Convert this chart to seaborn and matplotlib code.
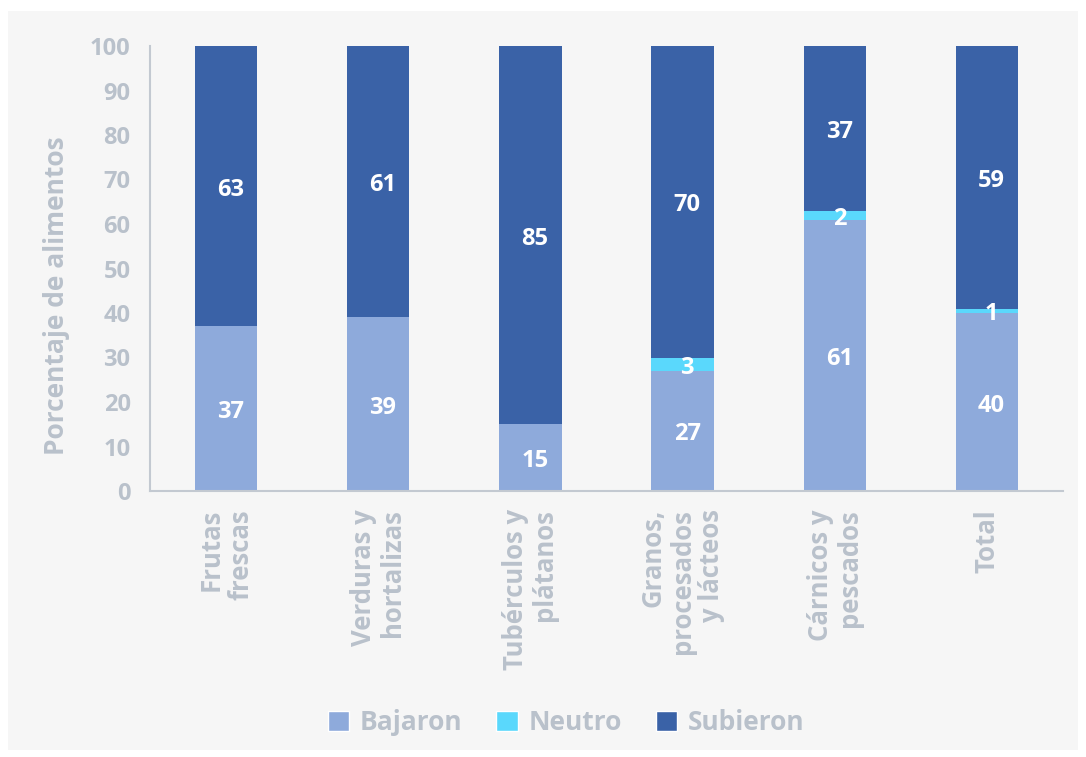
import matplotlib
matplotlib.use("Agg")
import matplotlib.pyplot as plt
from matplotlib.patches import Rectangle, Patch
import seaborn as sns
import numpy as np

categories = ["Frutas\nfrescas", "Verduras y\nhortalizas", "Tubérculos y\nplátanos",
              "Granos,\nprocesados\ny lácteos", "Cárnicos y\npescados", "Total"]
bajaron = [37, 39, 15, 27, 61, 40]
neutro = [0, 0, 0, 3, 2, 1]
subieron = [63, 61, 85, 70, 37, 59]
series_names = ["Bajaron", "Neutro", "Subieron"]
colors = ["#8eaadb", "#5ad8fc", "#3a62a7"]
yticks = [0, 10, 20, 30, 40, 50, 60, 70, 80, 90, 100]

sns.set_theme(style="white")
plt.rcParams["font.family"] = ["Open Sans", "DejaVu Sans"]

gray = "#b9c1cb"
fig = plt.figure(figsize=(10.86, 7.57), dpi=100, facecolor="white")
fig.patches.append(Rectangle((8 / 1086, 1 - 750 / 757), (1078 - 8) / 1086, (750 - 11) / 757,
                             transform=fig.transFigure, facecolor="#f6f6f6",
                             edgecolor="none", zorder=-10))
ax = fig.add_axes([150 / 1086, 1 - 491 / 757, (1063 - 150) / 1086, (491 - 46) / 757])
ax.set_facecolor("none")

x = list(range(len(categories)))
series = [bajaron, neutro, subieron]
bottom = np.zeros(len(categories))
for vals, col, name in zip(series, colors, series_names):
    sns.barplot(x=x, y=vals, bottom=bottom, color=col, width=0.41, ax=ax,
                saturation=1, native_scale=True, label=name, linewidth=0)
    for xi, v, b in zip(x, vals, bottom):
        if v > 0:
            ax.text(xi + 0.03, b + v / 2 - 0.8, f"{v}", ha="center", va="center",
                    color="white", fontsize=17, fontweight="bold")
    bottom = bottom + np.array(vals)

ax.set_xlim(-0.5, 5.5)
ax.set_ylim(0, 100)
ax.set_yticks(yticks)
ax.set_yticklabels([str(t) for t in yticks], fontsize=17, fontweight="bold", color=gray)
ax.set_xticks(x)
ax.set_xticklabels(categories, rotation=90, fontsize=18.5, fontweight="bold", color=gray,
                   va="top", ha="center", multialignment="right", linespacing=1.1)
ax.tick_params(axis="y", length=0, pad=14)
ax.tick_params(axis="x", length=0, pad=13)
for s in ["top", "right"]:
    ax.spines[s].set_visible(False)
for s in ["left", "bottom"]:
    ax.spines[s].set_color("#c3c9d1")
    ax.spines[s].set_linewidth(1.5)
ax.set_xlabel("")
ax.set_ylabel("")
fig.text(57 / 1086, 1 - 296 / 757, "Porcentaje de alimentos", rotation=90, ha="center",
         va="center", fontsize=19, fontweight="bold", color=gray)

handles = [Patch(facecolor=c, label=n) for c, n in zip(colors, series_names)]
leg = fig.legend(handles=handles, loc="center", bbox_to_anchor=(566 / 1086, 1 - 723 / 757),
                 ncol=3, frameon=False, fontsize=19, handlelength=0.8, handleheight=0.8,
                 handletextpad=0.4, columnspacing=1.3)
for t in leg.get_texts():
    t.set_color(gray)
    t.set_fontweight("bold")
if ax.get_legend():
    ax.get_legend().remove()

fig.savefig("out.png", dpi=100, facecolor="white")
